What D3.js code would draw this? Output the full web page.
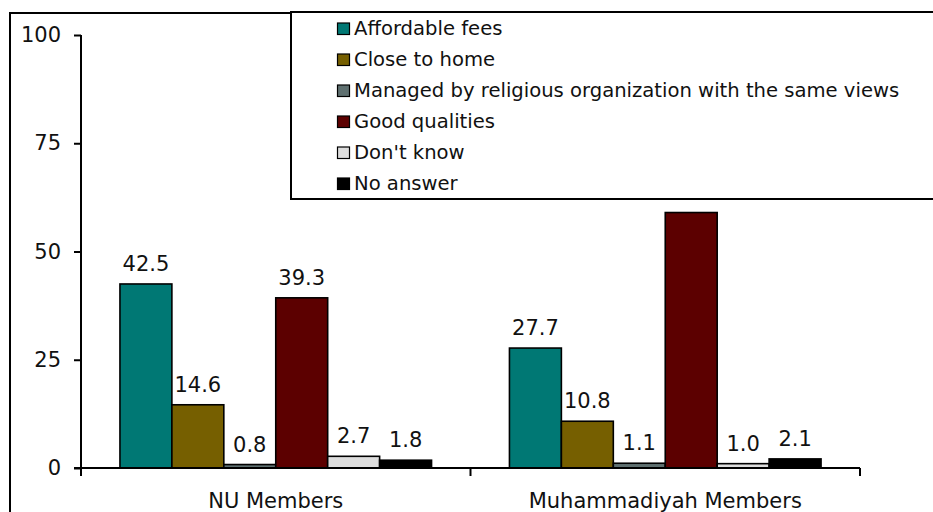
<!DOCTYPE html>
<html lang="en">
<head>
<meta charset="UTF-8">
<title>Reasons for choosing a school</title>
<script src="https://cdn.jsdelivr.net/npm/d3@7"></script>
<style>
  body { margin: 0; background: #fff; }
  text { font-family: "DejaVu Sans", Verdana, sans-serif; fill: #111; }
</style>
</head>
<body>
<div id="chart"></div>
<script>
(function (d3) {
  'use strict';

  var groups = ['NU Members', 'Muhammadiyah Members'];
  var series = ['Affordable fees', 'Close to home', 'Managed by religious organization with the same views',
                'Good qualities', "Don't know", 'No answer'];
  var colors = ['#007874', '#765f00', '#5f7070', '#5c0000', '#dddddd', '#000000'];
  var nuValues = [42.5, 14.6, 0.8, 39.3, 2.7, 1.8];
  var muhValues = [27.7, 10.8, 1.1, 59.0, 1.0, 2.1];
  var yTicks = [0, 25, 50, 75, 100];

  var values = [nuValues, muhValues];

  var width = 933, height = 512;

  var svg = d3.select('#chart').append('svg')
    .attr('width', width)
    .attr('height', height);

  // outer chart border (runs off the picture on the right and bottom)
  svg.append('rect')
    .attr('x', 10).attr('y', 13)
    .attr('width', 960).attr('height', 540)
    .attr('fill', 'none').attr('stroke', '#000').attr('stroke-width', 2);

  var x = d3.scaleBand().domain(groups).range([81, 860]);
  var xs = d3.scaleBand().domain(series).range([0, x.bandwidth()])
    .paddingInner(0).paddingOuter(0.75);
  var y = d3.scaleLinear().domain([0, 100]).range([468, 35]);

  // bars
  var g = svg.selectAll('.group')
    .data(groups)
    .enter().append('g')
    .attr('class', 'group')
    .attr('transform', function (d) { return 'translate(' + x(d) + ',0)'; });

  g.selectAll('rect')
    .data(function (d, i) {
      return series.map(function (s, j) { return { s: s, v: values[i][j], c: colors[j] }; });
    })
    .enter().append('rect')
    .attr('x', function (d) { return xs(d.s); })
    .attr('y', function (d) { return y(d.v); })
    .attr('width', xs.bandwidth())
    .attr('height', function (d) { return y(0) - y(d.v); })
    .attr('fill', function (d) { return d.c; })
    .attr('stroke', '#000')
    .attr('stroke-width', 1.6);

  g.selectAll('.val')
    .data(function (d, i) {
      return series.map(function (s, j) { return { s: s, v: values[i][j] }; });
    })
    .enter().append('text')
    .attr('class', 'val')
    .attr('x', function (d) { return xs(d.s) + xs.bandwidth() / 2; })
    .attr('y', function (d) { return y(d.v) - 13; })
    .attr('text-anchor', 'middle')
    .style('font-size', '21px')
    .text(function (d) { return d3.format('.1f')(d.v); });

  // y axis
  var yAxis = svg.append('g')
    .attr('transform', 'translate(81,0)')
    .call(d3.axisLeft(y).tickValues(yTicks).tickSize(7).tickPadding(13));
  yAxis.select('.domain').attr('d', 'M0,' + y(100) + 'V476');
  yAxis.selectAll('line, path').attr('stroke', '#000').attr('stroke-width', 2);
  yAxis.selectAll('text').style('font-size', '21px').attr('fill', '#111')
    .style('font-family', '"DejaVu Sans", Verdana, sans-serif');

  // x axis
  var xAxis = svg.append('g')
    .attr('transform', 'translate(0,' + y(0) + ')');
  xAxis.append('line')
    .attr('x1', 74).attr('x2', x.range()[1])
    .attr('stroke', '#000').attr('stroke-width', 2);
  xAxis.selectAll('.tick')
    .data(groups.concat(['end']))
    .enter().append('line')
    .attr('x1', function (d, i) { return i < groups.length ? x(d) : x.range()[1]; })
    .attr('x2', function (d, i) { return i < groups.length ? x(d) : x.range()[1]; })
    .attr('y1', 0).attr('y2', 8)
    .attr('stroke', '#000').attr('stroke-width', 2);
  xAxis.selectAll('.cat')
    .data(groups)
    .enter().append('text')
    .attr('class', 'cat')
    .attr('x', function (d) { return x(d) + x.bandwidth() / 2; })
    .attr('y', 40)
    .attr('text-anchor', 'middle')
    .style('font-size', '21px')
    .text(function (d) { return d; });

  // legend
  var legend = svg.append('g');
  legend.append('rect')
    .attr('x', 291).attr('y', 12)
    .attr('width', 700).attr('height', 187)
    .attr('fill', '#fff').attr('stroke', '#000').attr('stroke-width', 2);

  var item = legend.selectAll('.item')
    .data(series)
    .enter().append('g')
    .attr('class', 'item')
    .attr('transform', function (d, i) { return 'translate(337,' + (35 + i * 31) + ')'; });

  item.append('rect')
    .attr('x', 0.5).attr('y', -12)
    .attr('width', 12).attr('height', 11.5)
    .attr('fill', function (d, i) { return colors[i]; })
    .attr('stroke', '#000').attr('stroke-width', 1.2);

  item.append('text')
    .attr('x', 17).attr('y', 0)
    .style('font-size', '19.6px')
    .text(function (d) { return d; });

})(window.d3);
</script>
</body>
</html>
